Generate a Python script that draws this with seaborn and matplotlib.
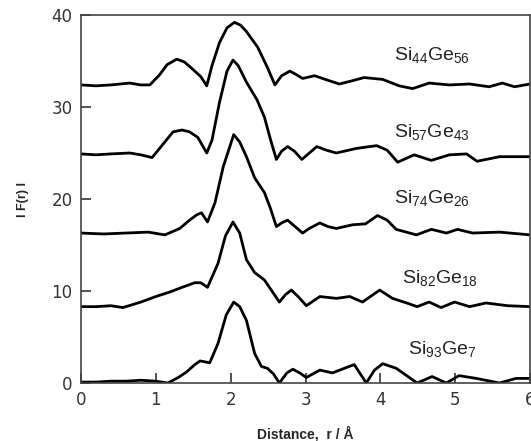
import matplotlib
matplotlib.use('Agg')
import matplotlib.pyplot as plt
import seaborn as sns
import pandas as pd

# radial distribution |F(r)| for Si-Ge alloys, offset curves
r_a = [0, 0.2, 0.4, 0.65, 0.8, 0.92, 1.05, 1.15, 1.28, 1.38, 1.48, 1.6, 1.68, 1.75, 1.85, 1.95, 2.05, 2.13, 2.21,
       2.36, 2.49, 2.59, 2.68, 2.79, 2.88, 2.96, 3.12, 3.3, 3.45, 3.6, 3.78, 4.03, 4.25, 4.43, 4.65, 4.92, 5.19,
       5.45, 5.63, 5.79, 6.0]
f_a = [32.4, 32.3, 32.4, 32.6, 32.4, 32.4, 33.5, 34.6, 35.2, 34.9, 34.2, 33.3, 32.3, 34.5, 37.0, 38.6, 39.2, 38.9,
       38.2, 36.5, 34.3, 32.4, 33.4, 33.9, 33.5, 33.1, 33.4, 32.9, 32.5, 32.8, 33.2, 33.0, 32.3, 32.0, 32.6, 32.4,
       32.5, 32.2, 32.6, 32.2, 32.5]

r_b = [0, 0.2, 0.4, 0.65, 0.8, 0.95, 1.1, 1.23, 1.35, 1.45, 1.56, 1.68, 1.75, 1.85, 1.95, 2.03, 2.1, 2.21, 2.35,
       2.45, 2.53, 2.61, 2.68, 2.76, 2.85, 2.95, 3.05, 3.15, 3.28, 3.41, 3.68, 3.95, 4.09, 4.23, 4.45, 4.68, 4.92,
       5.15, 5.29, 5.59, 6.0]
f_b = [24.9, 24.8, 24.9, 25.0, 24.8, 24.5, 26.0, 27.3, 27.5, 27.3, 26.7, 25.0, 26.4, 30.5, 33.9, 35.1, 34.5, 32.7,
       30.8, 28.9, 26.5, 24.3, 25.2, 25.7, 25.2, 24.3, 25.0, 25.7, 25.3, 25.0, 25.5, 25.8, 25.3, 24.0, 24.8, 24.2,
       24.8, 24.9, 24.1, 24.6, 24.6]

r_c = [0, 0.3, 0.6, 0.9, 1.12, 1.32, 1.45, 1.55, 1.61, 1.69, 1.79, 1.9, 2.04, 2.12, 2.21, 2.32, 2.45, 2.53, 2.61,
       2.68, 2.76, 2.86, 2.96, 3.05, 3.19, 3.3, 3.41, 3.63, 3.8, 3.96, 4.09, 4.21, 4.48, 4.68, 4.88, 5.03, 5.23,
       5.59, 6.0]
f_c = [16.3, 16.2, 16.3, 16.4, 16.1, 16.8, 17.7, 18.3, 18.5, 17.5, 19.6, 23.5, 27.0, 26.2, 24.6, 22.3, 20.7, 19.0,
       17.0, 17.4, 17.7, 17.0, 16.3, 16.8, 17.4, 17.0, 16.8, 17.2, 17.3, 18.2, 17.7, 16.7, 16.1, 16.7, 16.3, 16.7,
       16.3, 16.4, 16.1]

r_d = [0, 0.2, 0.4, 0.56, 0.8, 1.0, 1.19, 1.35, 1.52, 1.6, 1.69, 1.83, 1.93, 2.03, 2.12, 2.21, 2.32, 2.45, 2.55,
       2.65, 2.73, 2.81, 2.9, 3.01, 3.19, 3.41, 3.59, 3.76, 3.99, 4.16, 4.35, 4.49, 4.65, 4.81, 4.99, 5.19, 5.41,
       5.7, 6.0]
f_d = [8.3, 8.3, 8.4, 8.2, 8.8, 9.4, 9.9, 10.4, 10.9, 10.9, 10.4, 13.0, 16.0, 17.5, 16.3, 13.4, 12.0, 11.2, 10.0,
       8.8, 9.6, 10.1, 9.4, 8.4, 9.4, 9.2, 9.4, 8.8, 10.1, 9.2, 8.7, 8.3, 8.8, 8.2, 8.8, 8.3, 8.7, 8.4, 8.3]

r_e = [0, 0.2, 0.4, 0.6, 0.8, 1.0, 1.16, 1.3, 1.41, 1.52, 1.59, 1.72, 1.83, 1.94, 2.04, 2.12, 2.21, 2.32, 2.41,
       2.49, 2.57, 2.65, 2.75, 2.83, 2.92, 3.01, 3.19, 3.36, 3.55, 3.65, 3.81, 3.92, 4.03, 4.21, 4.35, 4.49, 4.69,
       4.88, 5.05, 5.28, 5.59, 5.81, 6.0]
f_e = [0.1, 0.1, 0.2, 0.2, 0.3, 0.2, 0.0, 0.6, 1.2, 2.0, 2.4, 2.2, 4.3, 7.4, 8.8, 8.3, 6.8, 3.2, 1.8, 1.6, 1.0,
       0.0, 1.1, 1.5, 1.1, 0.6, 1.4, 1.1, 1.7, 2.0, 0.0, 1.4, 2.1, 1.6, 0.8, 0.0, 0.7, 0.0, 0.8, 0.5, 0.0, 0.5, 0.5]

labels = [r'$\mathrm{Si}_{44}\mathrm{Ge}_{56}$', r'$\mathrm{Si}_{57}\mathrm{Ge}_{43}$',
          r'$\mathrm{Si}_{74}\mathrm{Ge}_{26}$', r'$\mathrm{Si}_{82}\mathrm{Ge}_{18}$',
          r'$\mathrm{Si}_{93}\mathrm{Ge}_{7}$']
label_x = [4.69, 4.69, 4.69, 4.79, 4.82]
label_y = [35.6, 27.3, 20.1, 11.4, 3.7]

sns.set_style('white')
plt.rcParams['font.family'] = ['DejaVu Sans']
plt.rcParams['mathtext.fontset'] = 'custom'
plt.rcParams['mathtext.rm'] = 'Liberation Sans'
plt.rcParams['mathtext.it'] = 'Liberation Sans'

fig = plt.figure(figsize=(5.31, 4.41), dpi=100)
ax = fig.add_axes([0.1525, 0.1315, 0.846, 0.8345])

for rr, ff in [(r_a, f_a), (r_b, f_b), (r_c, f_c), (r_d, f_d), (r_e, f_e)]:
    df = pd.DataFrame({'r': rr, 'F': ff})
    sns.lineplot(data=df, x='r', y='F', ax=ax, color='black', lw=2.0, estimator=None, sort=False)

for lab, lx, ly in zip(labels, label_x, label_y):
    ax.text(lx, ly, lab, ha='center', va='center', fontsize=14, color='#222222')

ax.set_xlim(0, 6)
ax.set_ylim(0, 40)
ax.set_xticks([0, 1, 2, 3, 4, 5, 6])
ax.set_yticks([0, 10, 20, 30, 40])
ax.tick_params(direction='in', length=7, width=1.2, color='#333333', labelsize=12,
               labelcolor='#333333', pad=6, bottom=True, left=True)
for s in ax.spines.values():
    s.set_color('#444444')
    s.set_linewidth(1.2)

ax.set_xlabel('Distance,  r / Å', fontsize=10, fontweight='bold', family='Liberation Sans', labelpad=12)
ax.set_ylabel('I F(r) I', fontsize=9, fontweight='bold', family='Liberation Sans', labelpad=16)

fig.savefig('out.png', dpi=100)
